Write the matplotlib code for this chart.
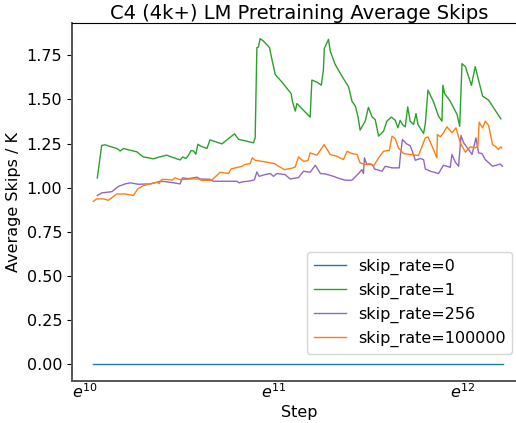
import numpy as np
import matplotlib
matplotlib.use("Agg")
import matplotlib.pyplot as plt
from matplotlib.ticker import LogLocator, NullLocator, FuncFormatter

blue_x = [10.042, 12.212]
blue_y = [0.0, 0.0]

green_x = [10.065, 10.088, 10.106, 10.133, 10.168, 10.186, 10.203, 10.239, 10.274, 10.291,
           10.309, 10.335, 10.362, 10.388, 10.433, 10.451, 10.467, 10.503, 10.517, 10.533,
           10.544, 10.561, 10.574, 10.586, 10.597, 10.609, 10.645, 10.661, 10.688, 10.724,
           10.759, 10.791, 10.812, 10.856, 10.891, 10.900, 10.909, 10.917, 10.926, 10.944,
           10.976, 10.985, 11.006, 11.042, 11.090, 11.097, 11.112, 11.121, 11.156, 11.191,
           11.200, 11.227, 11.250, 11.261, 11.266, 11.288, 11.297, 11.323, 11.359, 11.394,
           11.412, 11.430, 11.444, 11.455, 11.482, 11.499, 11.518, 11.535, 11.553, 11.579,
           11.597, 11.620, 11.641, 11.655, 11.667, 11.679, 11.694, 11.707, 11.720, 11.738,
           11.751, 11.761, 11.791, 11.800, 11.814, 11.844, 11.870, 11.888, 11.893, 11.902,
           11.932, 11.968, 11.982, 11.994, 12.012, 12.044, 12.064, 12.103, 12.135, 12.196,
           12.200]
green_y = [1.055, 1.239, 1.243, 1.233, 1.222, 1.208, 1.222, 1.212, 1.203, 1.188,
           1.174, 1.169, 1.163, 1.172, 1.184, 1.176, 1.170, 1.157, 1.174, 1.165,
           1.178, 1.210, 1.208, 1.189, 1.246, 1.237, 1.222, 1.271, 1.261, 1.248,
           1.278, 1.305, 1.274, 1.263, 1.254, 1.282, 1.794, 1.797, 1.845, 1.831,
           1.794, 1.746, 1.642, 1.598, 1.534, 1.490, 1.434, 1.477, 1.438, 1.400,
           1.610, 1.598, 1.581, 1.670, 1.790, 1.841, 1.775, 1.699, 1.632, 1.572,
           1.490, 1.462, 1.402, 1.326, 1.377, 1.455, 1.402, 1.386, 1.292, 1.320,
           1.377, 1.400, 1.382, 1.339, 1.382, 1.358, 1.345, 1.458, 1.377, 1.358,
           1.420, 1.358, 1.307, 1.362, 1.553, 1.485, 1.405, 1.377, 1.581, 1.534,
           1.490, 1.415, 1.348, 1.703, 1.686, 1.580, 1.686, 1.519, 1.496, 1.396,
           1.390]

purple_x = [10.065, 10.088, 10.142, 10.177, 10.212, 10.239, 10.282, 10.344, 10.380, 10.397,
            10.424, 10.451, 10.503, 10.515, 10.547, 10.592, 10.609, 10.661, 10.679, 10.803,
            10.816, 10.830, 10.873, 10.896, 10.909, 10.921, 10.953, 10.980, 10.997, 11.015,
            11.058, 11.085, 11.129, 11.156, 11.191, 11.218, 11.245, 11.270, 11.314, 11.341,
            11.377, 11.412, 11.447, 11.464, 11.473, 11.478, 11.491, 11.521, 11.531, 11.571,
            11.588, 11.624, 11.662, 11.667, 11.679, 11.699, 11.720, 11.733, 11.747, 11.773,
            11.791, 11.800, 11.827, 11.870, 11.896, 11.932, 11.941, 11.959, 11.976, 11.989,
            12.003, 12.029, 12.047, 12.068, 12.082, 12.100, 12.117, 12.156, 12.196, 12.208]
purple_y = [0.955, 0.970, 0.977, 1.007, 1.021, 1.027, 1.019, 1.021, 1.030, 1.036,
            1.034, 1.030, 1.021, 1.055, 1.051, 1.059, 1.049, 1.047, 1.036, 1.036,
            1.027, 1.032, 1.038, 1.044, 1.089, 1.064, 1.074, 1.080, 1.064, 1.080,
            1.074, 1.049, 1.057, 1.093, 1.087, 1.127, 1.080, 1.078, 1.064, 1.053,
            1.042, 1.042, 1.080, 1.102, 1.080, 1.169, 1.131, 1.131, 1.106, 1.093,
            1.121, 1.112, 1.112, 1.169, 1.273, 1.250, 1.237, 1.201, 1.155, 1.165,
            1.159, 1.106, 1.093, 1.080, 1.127, 1.115, 1.188, 1.144, 1.121, 1.295,
            1.254, 1.216, 1.188, 1.282, 1.197, 1.193, 1.159, 1.121, 1.134, 1.121]

orange_x = [10.044, 10.062, 10.097, 10.123, 10.168, 10.212, 10.256, 10.279, 10.309, 10.344,
            10.380, 10.392, 10.407, 10.451, 10.459, 10.476, 10.503, 10.565, 10.600, 10.618,
            10.670, 10.715, 10.759, 10.773, 10.830, 10.844, 10.873, 10.885, 10.900, 10.953,
            11.002, 11.024, 11.055, 11.094, 11.112, 11.129, 11.156, 11.179, 11.191, 11.227,
            11.265, 11.297, 11.332, 11.367, 11.386, 11.412, 11.439, 11.455, 11.482, 11.509,
            11.526, 11.553, 11.579, 11.610, 11.624, 11.641, 11.658, 11.685, 11.720, 11.764,
            11.783, 11.800, 11.814, 11.836, 11.861, 11.864, 11.879, 11.896, 11.914, 11.941,
            11.962, 11.985, 12.012, 12.038, 12.064, 12.078, 12.085, 12.103, 12.117, 12.135,
            12.156, 12.170, 12.187, 12.200, 12.205]
orange_y = [0.922, 0.936, 0.936, 0.928, 0.964, 0.964, 0.955, 0.993, 1.011, 1.021,
            1.030, 1.023, 1.047, 1.045, 1.042, 1.055, 1.045, 1.049, 1.049, 1.040,
            1.042, 1.087, 1.080, 1.106, 1.121, 1.131, 1.136, 1.169, 1.155, 1.146,
            1.136, 1.121, 1.102, 1.110, 1.117, 1.174, 1.149, 1.153, 1.197, 1.184,
            1.244, 1.188, 1.178, 1.159, 1.206, 1.193, 1.188, 1.140, 1.131, 1.136,
            1.121, 1.169, 1.206, 1.212, 1.292, 1.277, 1.225, 1.193, 1.188, 1.182,
            1.235, 1.282, 1.288, 1.235, 1.169, 1.301, 1.288, 1.311, 1.345, 1.311,
            1.339, 1.254, 1.201, 1.231, 1.225, 1.235, 1.371, 1.339, 1.377, 1.352,
            1.244, 1.235, 1.216, 1.231, 1.225]

labels = ["skip_rate=0", "skip_rate=1", "skip_rate=256", "skip_rate=100000"]
colors = ["#1f77b4", "#2ca02c", "#9467bd", "#ff7f0e"]

plt.rcParams["font.size"] = 11.5

fig = plt.figure(figsize=(5.16, 4.23), dpi=100)
ax = fig.add_axes([0.1395, 0.0993, 0.88, 0.8456])

series = [(blue_x, blue_y), (green_x, green_y), (purple_x, purple_y), (orange_x, orange_y)]
for (xs, ys), lab, col in zip(series, labels, colors):
    ax.plot(np.exp(xs), ys, color=col, lw=1.0, label=lab)

ax.set_xscale("log", base=np.e)
ax.xaxis.set_major_locator(LogLocator(base=np.e))
ax.xaxis.set_minor_locator(NullLocator())
ax.xaxis.set_major_formatter(FuncFormatter(lambda v, pos: r"$e^{%d}$" % round(np.log(v))))
ax.tick_params(axis="x", length=0, pad=1)
ax.set_xlim(np.exp(9.931), np.exp(12.333))
ax.set_ylim(-0.097, 1.932)

for s in ["left", "bottom"]:
    ax.spines[s].set_color("#555555")
    ax.spines[s].set_linewidth(1.4)

ax.set_xlabel("Step", labelpad=3)
ax.set_ylabel("Average Skips / K")
ax.set_title("C4 (4k+) LM Pretraining Average Skips", fontsize=14, pad=3)
ax.legend(loc="lower right", bbox_to_anchor=(0.993, 0.164),
          bbox_transform=fig.transFigure, borderaxespad=0)

fig.savefig("out.png", dpi=100)
